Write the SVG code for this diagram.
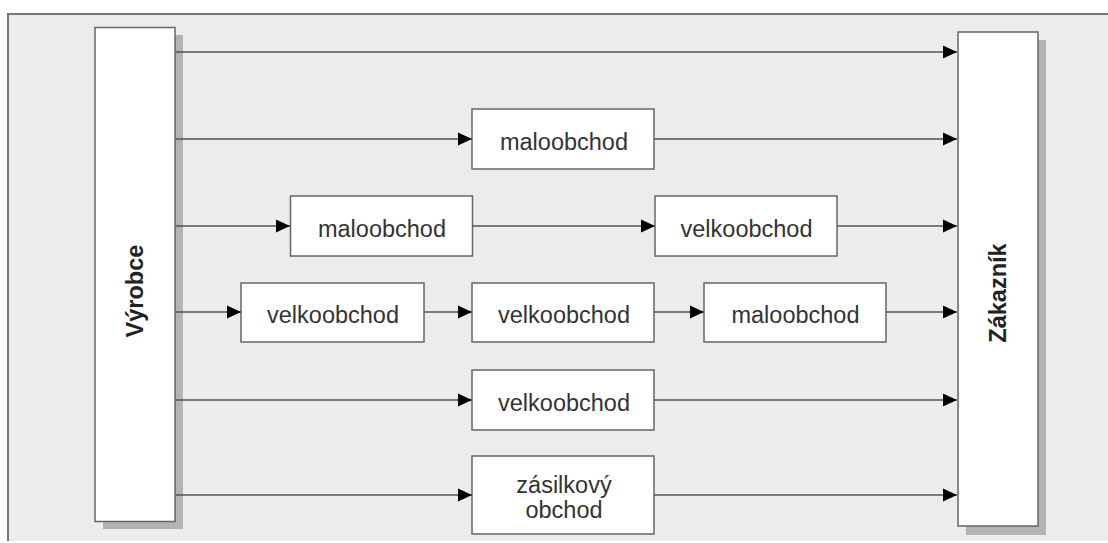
<svg xmlns="http://www.w3.org/2000/svg" width="1108" height="543" viewBox="0 0 1108 543">
<defs>
<style>
.box{fill:#fff;stroke:#666;stroke-width:1.5}
.sh{fill:#b3b3b3}
.t{font-family:"Liberation Sans",Arial,sans-serif;font-size:23.5px;fill:#333;text-anchor:middle}
.b{font-weight:bold;fill:#222}
.ln{stroke:#555;stroke-width:1.5;fill:none}
</style>
<marker id="ah" viewBox="0 0 14 14" refX="14" refY="7" markerWidth="14" markerHeight="14" markerUnits="userSpaceOnUse" orient="auto">
<path d="M0,0.5 L14,7 L0,13.5 Z" fill="#000"/>
</marker>
</defs>
<rect x="0" y="0" width="1108" height="543" fill="#fff"/>
<rect x="8" y="14" width="1100" height="527" fill="#ececec"/>
<path d="M8,541 V14 H1108" fill="none" stroke="#777" stroke-width="2"/>
<g id="vyrobce">
<rect class="sh" x="103" y="35" width="80" height="494"/>
<rect class="box" x="95" y="27.5" width="80" height="494"/>
<text class="t b" transform="translate(143,291) rotate(-90)">Výrobce</text>
</g>
<g id="zakaznik">
<rect class="sh" x="966" y="40" width="80" height="495"/>
<rect class="box" x="958" y="32" width="80" height="494"/>
<text class="t b" transform="translate(1006,293) rotate(-90)">Zákazník</text>
</g>
<g id="n1">
<rect class="box" x="472" y="109" width="182" height="60"/>
<text class="t" x="564" y="150">maloobchod</text>
</g>
<g id="n2">
<rect class="box" x="290.5" y="196" width="182" height="60"/>
<text class="t" x="382" y="237">maloobchod</text>
</g>
<g id="n3">
<rect class="box" x="655" y="196" width="182" height="60"/>
<text class="t" x="746.5" y="237">velkoobchod</text>
</g>
<g id="n4">
<rect class="box" x="241" y="283" width="183" height="59"/>
<text class="t" x="333" y="323">velkoobchod</text>
</g>
<g id="n5">
<rect class="box" x="472" y="283" width="182" height="59"/>
<text class="t" x="564" y="323">velkoobchod</text>
</g>
<g id="n6">
<rect class="box" x="704" y="283" width="182" height="59"/>
<text class="t" x="795.5" y="323">maloobchod</text>
</g>
<g id="n7">
<rect class="box" x="472" y="370" width="182" height="60"/>
<text class="t" x="564" y="411">velkoobchod</text>
</g>
<g id="n8">
<rect class="box" x="472" y="456" width="182" height="78"/>
<text class="t" x="564" y="493">zásilkový</text>
<text class="t" x="564" y="518">obchod</text>
</g>
<g id="connectors">
<line class="ln" x1="175.5" y1="52" x2="957" y2="52" marker-end="url(#ah)"/>
<line class="ln" x1="175.5" y1="139" x2="472" y2="139" marker-end="url(#ah)"/>
<line class="ln" x1="654" y1="139" x2="957" y2="139" marker-end="url(#ah)"/>
<line class="ln" x1="175.5" y1="226" x2="290" y2="226" marker-end="url(#ah)"/>
<line class="ln" x1="472" y1="226" x2="655" y2="226" marker-end="url(#ah)"/>
<line class="ln" x1="837" y1="226" x2="957" y2="226" marker-end="url(#ah)"/>
<line class="ln" x1="175.5" y1="312" x2="241" y2="312" marker-end="url(#ah)"/>
<line class="ln" x1="424" y1="312" x2="472" y2="312" marker-end="url(#ah)"/>
<line class="ln" x1="654" y1="312" x2="704" y2="312" marker-end="url(#ah)"/>
<line class="ln" x1="886" y1="312" x2="957" y2="312" marker-end="url(#ah)"/>
<line class="ln" x1="175.5" y1="400" x2="472" y2="400" marker-end="url(#ah)"/>
<line class="ln" x1="654" y1="400" x2="957" y2="400" marker-end="url(#ah)"/>
<line class="ln" x1="175.5" y1="495" x2="472" y2="495" marker-end="url(#ah)"/>
<line class="ln" x1="654" y1="495" x2="957" y2="495" marker-end="url(#ah)"/>
</g>
</svg>
